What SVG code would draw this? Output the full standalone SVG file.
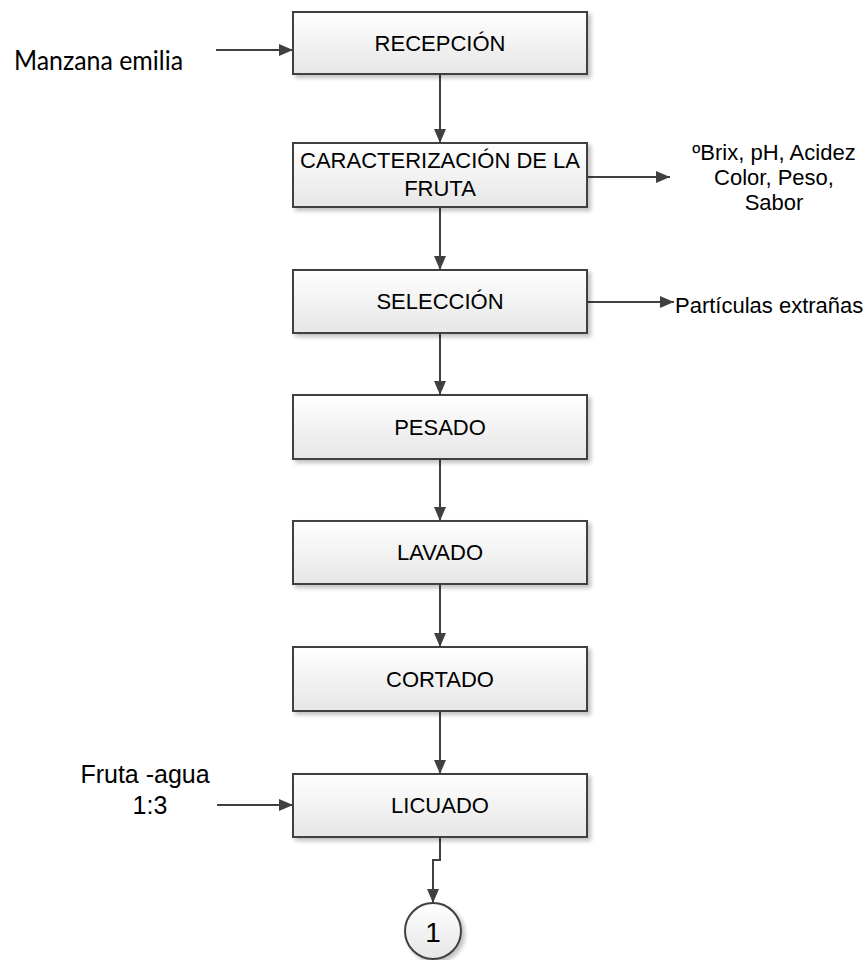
<svg xmlns="http://www.w3.org/2000/svg" width="868" height="960" viewBox="0 0 868 960">
  <defs>
    <linearGradient id="boxFill" x1="0" y1="0" x2="0" y2="1">
      <stop offset="0" stop-color="#ffffff"/>
      <stop offset="1" stop-color="#e6e6e6"/>
    </linearGradient>
    <filter id="shadow" x="-10%" y="-20%" width="130%" height="150%">
      <feGaussianBlur in="SourceAlpha" stdDeviation="2"/>
      <feOffset dx="3" dy="3" result="b"/>
      <feComponentTransfer><feFuncA type="linear" slope="0.25"/></feComponentTransfer>
      <feMerge><feMergeNode/><feMergeNode in="SourceGraphic"/></feMerge>
    </filter>
    <marker id="arrow" viewBox="0 0 14 12" refX="14" refY="6" markerWidth="14" markerHeight="12" markerUnits="userSpaceOnUse" orient="auto">
      <path d="M0,0 L14,6 L0,12 Z" fill="#404040"/>
    </marker>
  </defs>
  <style>
    .box { fill: url(#boxFill); stroke: #404040; stroke-width: 2; filter: url(#shadow); }
    .lbl { font-family: "Liberation Sans", Arial, sans-serif; font-size: 22px; fill: #000; text-anchor: middle; }
    .side { font-family: "Liberation Sans", Arial, sans-serif; font-size: 22px; fill: #000; }
    .conn { fill: none; stroke: #404040; stroke-width: 2; marker-end: url(#arrow); }
  </style>
  <rect width="868" height="960" fill="#ffffff"/>

  <g id="connectors">
    <line class="conn" x1="216" y1="50" x2="293" y2="50"/>
    <line class="conn" x1="440" y1="74" x2="440" y2="143"/>
    <line class="conn" x1="587" y1="177" x2="670" y2="177"/>
    <line class="conn" x1="440" y1="207" x2="440" y2="270"/>
    <line class="conn" x1="587" y1="302" x2="674" y2="302"/>
    <line class="conn" x1="440" y1="333" x2="440" y2="395"/>
    <line class="conn" x1="440" y1="459" x2="440" y2="521"/>
    <line class="conn" x1="440" y1="584" x2="440" y2="647"/>
    <line class="conn" x1="440" y1="711" x2="440" y2="774"/>
    <line class="conn" x1="217" y1="805" x2="293" y2="805"/>
    <polyline class="conn" points="440,837 440,860 433,860 433,903"/>
  </g>

  <g id="recepcion">
    <rect class="box" x="293" y="12" width="294" height="62"/>
    <text class="lbl" x="440" y="51">RECEPCIÓN</text>
  </g>
  <g id="caracterizacion">
    <rect class="box" x="293" y="143" width="294" height="64"/>
    <text class="lbl" x="440" y="168">CARACTERIZACIÓN DE LA</text>
    <text class="lbl" x="440" y="196">FRUTA</text>
  </g>
  <g id="seleccion">
    <rect class="box" x="293" y="270" width="294" height="63"/>
    <text class="lbl" x="440" y="309">SELECCIÓN</text>
  </g>
  <g id="pesado">
    <rect class="box" x="293" y="395" width="294" height="64"/>
    <text class="lbl" x="440" y="435">PESADO</text>
  </g>
  <g id="lavado">
    <rect class="box" x="293" y="521" width="294" height="63"/>
    <text class="lbl" x="440" y="560">LAVADO</text>
  </g>
  <g id="cortado">
    <rect class="box" x="293" y="647" width="294" height="64"/>
    <text class="lbl" x="440" y="687">CORTADO</text>
  </g>
  <g id="licuado">
    <rect class="box" x="293" y="774" width="294" height="63"/>
    <text class="lbl" x="440" y="813">LICUADO</text>
  </g>
  <g id="conector-1">
    <circle cx="433" cy="931" r="28" fill="url(#boxFill)" stroke="#404040" stroke-width="2" filter="url(#shadow)"/>
    <text x="433" y="942" font-family="'Liberation Sans', Arial, sans-serif" font-size="28" text-anchor="middle" fill="#000">1</text>
  </g>

  <g id="entrada-manzana">
    <text x="14" y="70" font-family="Lato, 'Open Sans', sans-serif" font-size="26" fill="#000" textLength="169" lengthAdjust="spacingAndGlyphs">Manzana emilia</text>
  </g>
  <g id="entrada-agua">
    <text x="145" y="783" font-family="'Liberation Sans', Arial, sans-serif" font-size="25" text-anchor="middle" fill="#000">Fruta -agua</text>
    <text x="150" y="814" font-family="'Liberation Sans', Arial, sans-serif" font-size="25" text-anchor="middle" fill="#000">1:3</text>
  </g>
  <g id="salida-parametros">
    <text class="lbl" x="774" y="160">ºBrix, pH, Acidez</text>
    <text class="lbl" x="774" y="185">Color, Peso,</text>
    <text class="lbl" x="774" y="210">Sabor</text>
  </g>
  <g id="salida-particulas">
    <text class="side" x="675" y="313">Partículas extrañas</text>
  </g>
</svg>
